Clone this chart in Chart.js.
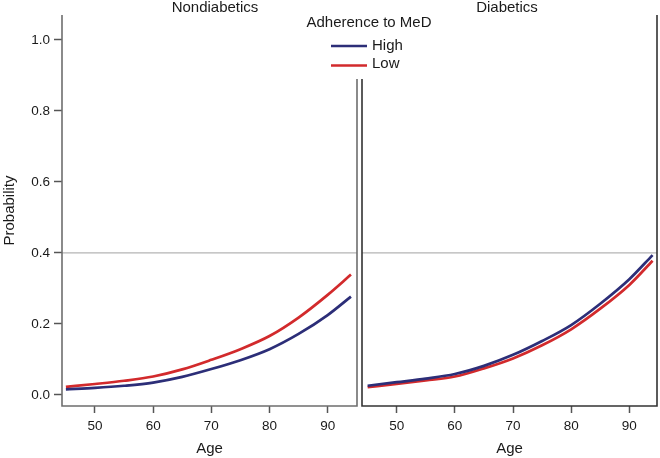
<!DOCTYPE html>
<html>
<head>
<meta charset="utf-8">
<script src="https://cdn.jsdelivr.net/npm/chart.js@4"></script>
<style>
  html, body { margin: 0; padding: 0; background: #fff; }
  #wrap { position: relative; width: 660px; height: 458px; }
  canvas { position: absolute; left: 0; top: 0; }
</style>
</head>
<body>
<div id="wrap">
  <canvas id="c1" width="660" height="458"></canvas>
  <canvas id="c2" width="660" height="458"></canvas>
</div>
<script>
// ---- data ----
const ages = [45, 50, 55, 60, 65, 70, 75, 80, 85, 90, 94];
const nondiabHigh = [0.016, 0.020, 0.026, 0.035, 0.051, 0.073, 0.098, 0.129, 0.172, 0.225, 0.277];
const nondiabLow  = [0.023, 0.031, 0.040, 0.052, 0.072, 0.099, 0.129, 0.166, 0.218, 0.282, 0.339];
const diabHigh    = [0.026, 0.036, 0.046, 0.059, 0.082, 0.113, 0.152, 0.197, 0.257, 0.326, 0.394];
const diabLow     = [0.022, 0.031, 0.041, 0.052, 0.075, 0.103, 0.140, 0.185, 0.243, 0.310, 0.378];
const xTicks = [50, 60, 70, 80, 90];
const yTicks = [0.0, 0.2, 0.4, 0.6, 0.8, 1.0];
const panelTitles = ['Nondiabetics', 'Diabetics'];
const seriesNames = ['High', 'Low'];
const legendTitle = 'Adherence to MeD';
const refLine = 0.4;

const NAVY = '#2c2e78';
const RED = '#d22a2c';
const TXT = '#1a1a1a';
const FONT = "'Liberation Sans', Arial, sans-serif";

const toXY = (arr) => arr.map((v, i) => ({ x: ages[i], y: v }));

function makeDatasets(high, low) {
  return [
    { label: seriesNames[0], data: toXY(high), borderColor: NAVY, borderWidth: 2.7, pointRadius: 0, tension: 0.4, cubicInterpolationMode: 'monotone', fill: false },
    { label: seriesNames[1], data: toXY(low), borderColor: RED, borderWidth: 2.7, pointRadius: 0, tension: 0.4, cubicInterpolationMode: 'monotone', fill: false }
  ];
}

function xScale(min, max) {
  return {
    type: 'linear', min: min, max: max,
    afterBuildTicks: (s) => { s.ticks = xTicks.map(v => ({ value: v })); },
    afterFit: (s) => { s.height = 52; },
    border: { display: false },
    grid: { drawOnChartArea: false, drawTicks: true, tickLength: 7, tickColor: '#555', tickWidth: 1.5 },
    ticks: { color: TXT, font: { family: FONT, size: 13.5 }, padding: 5, maxRotation: 0 },
    title: { display: true, text: 'Age', color: TXT, font: { family: FONT, size: 15 }, padding: { top: 0, bottom: 0 } }
  };
}

const Y_MIN = -0.031, Y_MAX = 1.070;

function panelPlugin(opts) {
  return {
    id: 'panel' + opts.idx,
    beforeDatasetsDraw(chart) {
      const ctx = chart.ctx, a = chart.chartArea, y = chart.scales.y;
      const py = y.getPixelForValue(refLine);
      ctx.save();
      ctx.strokeStyle = '#b4b4b4';
      ctx.lineWidth = 1.2;
      ctx.beginPath();
      ctx.moveTo(a.left, py);
      ctx.lineTo(a.right, py);
      ctx.stroke();
      ctx.restore();
    },
    afterDraw(chart) {
      const ctx = chart.ctx, a = chart.chartArea;
      ctx.save();
      ctx.strokeStyle = opts.borderColor;
      ctx.lineWidth = 1.6;
      ctx.beginPath();
      ctx.moveTo(a.left, opts.leftTop); ctx.lineTo(a.left, a.bottom);
      ctx.lineTo(a.right, a.bottom);
      ctx.lineTo(a.right, opts.rightTop);
      ctx.stroke();
      // panel title
      ctx.fillStyle = TXT;
      ctx.font = '15px ' + FONT;
      ctx.textAlign = 'center';
      ctx.textBaseline = 'middle';
      ctx.fillText(opts.title, opts.titleX, 8);
      if (opts.legend) {
        ctx.fillText(legendTitle, 369, 23);
        ctx.lineWidth = 2.7;
        ctx.strokeStyle = NAVY;
        ctx.beginPath(); ctx.moveTo(331, 46); ctx.lineTo(367, 46); ctx.stroke();
        ctx.strokeStyle = RED;
        ctx.beginPath(); ctx.moveTo(331, 65.5); ctx.lineTo(367, 65.5); ctx.stroke();
        ctx.textAlign = 'left';
        ctx.fillText(seriesNames[0], 372, 45.5);
        ctx.fillText(seriesNames[1], 372, 64);
      }
      ctx.restore();
    }
  };
}

new Chart(document.getElementById('c1'), {
  type: 'line',
  data: { datasets: makeDatasets(nondiabHigh, nondiabLow) },
  options: {
    responsive: false, animation: false, devicePixelRatio: 1,
    layout: { padding: { top: 15, right: 303, left: 0, bottom: 0 } },
    plugins: { legend: { display: false }, tooltip: { enabled: false } },
    scales: {
      x: xScale(44.33, 95.04),
      y: {
        type: 'linear', min: Y_MIN, max: Y_MAX,
        afterBuildTicks: (s) => { s.ticks = yTicks.map(v => ({ value: v })); },
        afterFit: (s) => { s.width = 62; },
        border: { display: false },
        grid: { drawOnChartArea: false, drawTicks: true, tickLength: 8, tickColor: '#555', tickWidth: 1.5 },
        ticks: { color: TXT, font: { family: FONT, size: 13.5 }, padding: 4, callback: (v) => Number(v).toFixed(1) },
        title: { display: true, text: 'Probability', color: TXT, font: { family: FONT, size: 15 }, padding: { top: 1, bottom: 0 } }
      }
    }
  },
  plugins: [panelPlugin({ idx: 1, borderColor: '#6e6e6e', leftTop: 15, rightTop: 79, title: panelTitles[0], titleX: 215, legend: false })]
});

new Chart(document.getElementById('c2'), {
  type: 'line',
  data: { datasets: makeDatasets(diabHigh, diabLow) },
  options: {
    responsive: false, animation: false, devicePixelRatio: 1,
    layout: { padding: { top: 15, right: 3, left: 362, bottom: 0 } },
    plugins: { legend: { display: false }, tooltip: { enabled: false } },
    scales: {
      x: xScale(44.03, 94.76),
      y: { type: 'linear', min: Y_MIN, max: Y_MAX, display: false }
    }
  },
  plugins: [panelPlugin({ idx: 2, borderColor: '#333', leftTop: 79, rightTop: 15, title: panelTitles[1], titleX: 507, legend: true })]
});
</script>
</body>
</html>
